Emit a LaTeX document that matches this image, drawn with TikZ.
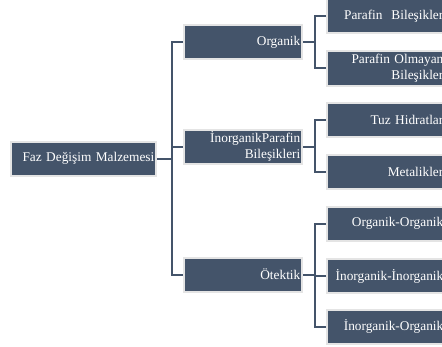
\documentclass[tikz,border=0pt]{standalone}
\usepackage{fontspec}
\setmainfont{Liberation Serif}
\definecolor{boxblue}{HTML}{44546A}
\definecolor{boxrim}{HTML}{E4E4E4}

\begin{document}
\begin{tikzpicture}[x=0.75pt, y=-0.75pt,
  every node/.style={font=\fontsize{10}{12}\selectfont, text=white},
  itembox/.style={rectangle, draw=boxrim, line width=1.5pt, fill=boxblue,
    minimum height=25.5pt, text width=86pt, inner xsep=1.25pt, inner ysep=0pt, align=right},
  link/.style={draw=boxblue, line width=1.5pt}]
\useasboundingbox (0,0) rectangle (442,346);
\clip (0,0) rectangle (442,346);
% root
\node[itembox, text width=106.25pt] (root) at (83.5,158.5) {Faz Değişim Malzemesi};
% first level
\node[itembox] (org) at (243,42.5) {Organik};
\node[itembox] (inorg) at (243,146.5) {İnorganikParafin\\Bileşikleri};
\node[itembox] (otek) at (243,274.5) {Ötektik};
% second level
\node[itembox] (pb) at (386,16.5) {Parafin~ Bileşikler};
\node[itembox] (po) at (386,68.5) {Parafin Olmayan\\Bileşikler};
\node[itembox] (tuz) at (386,120) {Tuz Hidratlar};
\node[itembox] (met) at (386,172) {Metalikler};
\node[itembox] (oo) at (386,223.5) {Organik-Organik};
\node[itembox] (ii) at (386,276) {İnorganik-İnorganik};
\node[itembox] (io) at (386,326.5) {İnorganik-Organik};
% connectors
\coordinate (bus0) at (172,0);
\coordinate (bus1) at (315,0);
\foreach \kid in {org,inorg,otek}
  \draw[link] (root.east) -- (root.east -| bus0) |- (\kid.west);
\foreach \kid in {pb,po}
  \draw[link] (org.east) -- (org.east -| bus1) |- (\kid.west);
\foreach \kid in {tuz,met}
  \draw[link] (inorg.east) -- (inorg.east -| bus1) |- (\kid.west);
\foreach \kid in {oo,ii,io}
  \draw[link] (otek.east) -- (otek.east -| bus1) |- (\kid.west);
\end{tikzpicture}
\end{document}
